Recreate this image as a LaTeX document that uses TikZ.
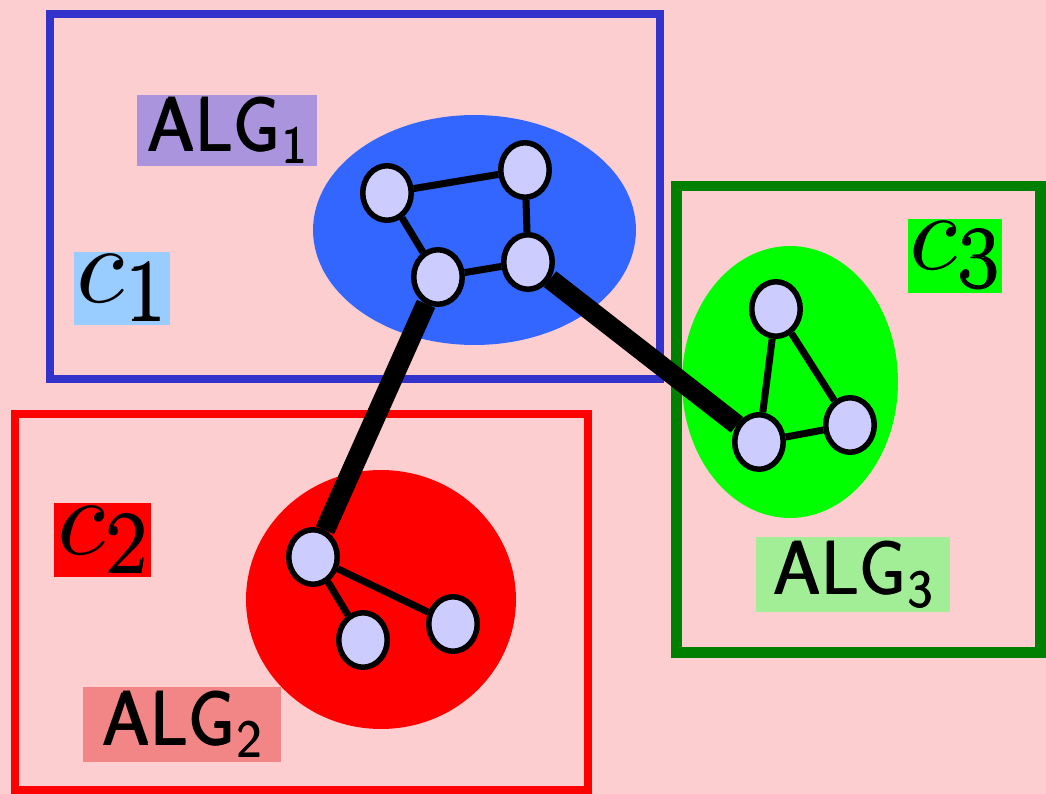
\documentclass[tikz,border=0pt]{standalone}
\usepackage{fontspec}
\usepackage{graphicx}
\usetikzlibrary{shapes.geometric}

\definecolor{bg}{HTML}{FCCECF}
\definecolor{frameblue}{HTML}{3333CC}
\definecolor{blobblue}{HTML}{3366FF}
\definecolor{framegreen}{HTML}{008000}
\definecolor{blobgreen}{HTML}{00FF00}
\definecolor{vertexfill}{HTML}{CCCCFF}
\definecolor{conebox}{HTML}{99CCFF}
\definecolor{algone}{HTML}{AA94DE}
\definecolor{algtwo}{HTML}{F28686}
\definecolor{algthree}{HTML}{A2EE96}

% overprinted text for heavier strokes
\newcommand\heavy[2]{\rlap{#2}\rlap{\raisebox{#1}{\kern#1#2}}\kern#1\relax#2}
% ALG label with a sans subscript
\newcommand\alglab[1]{\fontsize{43}{43}\selectfont\sffamily\heavy{0.7pt}{ALG}\raisebox{-7pt}{\fontsize{30}{30}\selectfont\heavy{0.6pt}{#1}}}
% cluster label c_i
\newcommand\clulab[1]{\scalebox{6.3}{$c$}\raisebox{-11pt}{\fontsize{50}{50}\selectfont\heavy{1.2pt}{#1}}}

\begin{document}
\begin{tikzpicture}[x=0.02cm,y=-0.02cm,
  frame/.style={line width=0.16cm},
  blob/.style={ellipse, inner sep=0pt},
  vertex/.style={ellipse, draw=black, line width=0.11cm, fill=vertexfill,
                 minimum width=0.97cm, minimum height=1.09cm, inner sep=0pt},
  thin/.style={line width=0.14cm},
  thick link/.style={line width=0.4cm},
  labelbox/.style={inner sep=0pt, text=black}]

\fill[bg] (0,0) rectangle (1046,794);
\useasboundingbox (0,0) rectangle (1046,794);

% cluster frames
\draw[frame, frameblue] (50,14) rectangle (660,379);
\draw[frame, red] (15,414) rectangle (588,790);
\draw[line width=0.22cm, framegreen] (676,186) rectangle (1040,652);

% coloured regions
\node[blob, fill=blobblue, minimum width=6.46cm, minimum height=4.6cm] (blueblob) at (474.5,230) {};
\node[blob, fill=blobgreen, minimum width=4.32cm, minimum height=5.44cm] (greenblob) at (790,382) {};
\node[blob, fill=red, minimum width=5.4cm, minimum height=5.18cm] (redblob) at (381,599.5) {};

% vertices
\node[vertex] (a1) at (387,193) {};
\node[vertex] (a2) at (525,170) {};
\node[vertex] (a3) at (438,277) {};
\node[vertex] (a4) at (528,262) {};
\node[vertex] (b1) at (776,309) {};
\node[vertex] (b2) at (850,425) {};
\node[vertex] (b3) at (759,442) {};
\node[vertex] (r1) at (313,557) {};
\node[vertex] (r2) at (453,624) {};
\node[vertex] (r3) at (363,640) {};

% edges
\draw[thin] (a1) -- (a2);
\draw[thin] (a2) -- (a4);
\draw[thin] (a1) -- (a3);
\draw[thin] (a3) -- (a4);
\draw[thin] (b1) -- (b3);
\draw[thin] (b1) -- (b2);
\draw[thin] (b2) -- (b3);
\draw[thin] (r1) -- (r2);
\draw[thin] (r1) -- (r3);
\draw[thick link] (a3) -- (r1);
\draw[thick link] (a4) -- (b3);

% labels
\node[labelbox, fill=algone, minimum width=3.6cm, minimum height=1.42cm] (alg1) at (227,130.5) {\alglab{1}};
\node[labelbox, fill=algtwo, minimum width=3.96cm, minimum height=1.5cm] (alg2) at (182,724.5) {\alglab{2}};
\node[labelbox, fill=algthree, minimum width=3.88cm, minimum height=1.5cm] (alg3) at (853,574.5) {\alglab{3}};
\node[labelbox, fill=conebox, minimum width=1.92cm, minimum height=1.46cm] (c1) at (122,288.5) {\clulab{1}};
\node[labelbox, fill=red, minimum width=1.94cm, minimum height=1.48cm] (c2) at (102.5,540) {\clulab{2}};
\node[labelbox, fill=blobgreen, minimum width=1.88cm, minimum height=1.48cm] (c3) at (955,256) {\clulab{3}};

\end{tikzpicture}
\end{document}
